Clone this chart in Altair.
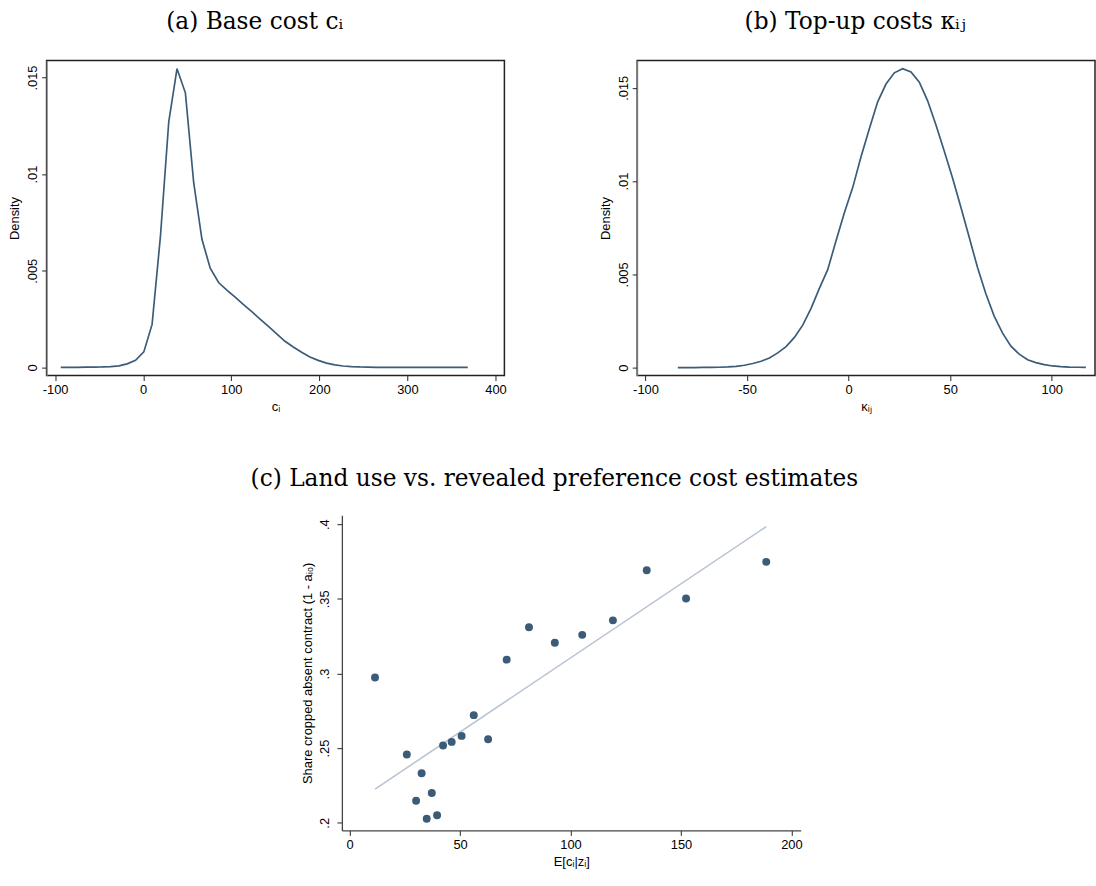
import altair as alt
import pandas as pd

# ---------------- data ----------------
# (a) kernel density of base cost c_i
base_cost_x = [-93.6, -84.2, -74.7, -65.3, -55.9, -46.4, -37.0, -27.6, -18.2, -8.7,
               0.7, 10.1, 19.6, 29.0, 38.4, 47.9, 57.3, 66.7, 76.1, 85.6,
               95.0, 104.4, 113.9, 123.3, 132.7, 142.2, 151.6, 161.0, 170.4, 179.9,
               189.3, 198.7, 208.2, 217.6, 227.0, 236.5, 245.9, 255.3, 264.7, 274.2,
               283.6, 293.0, 302.5, 311.9, 321.3, 330.8, 340.2, 349.6, 359.1, 368.5]
base_cost_density = [0.0, 0.0, 0.0, 0.00001, 0.00001, 0.00002, 0.00004, 0.00008, 0.00018, 0.00036,
                     0.00080, 0.00222, 0.0068, 0.0127, 0.01546, 0.01421, 0.00957, 0.00663, 0.00513, 0.00439,
                     0.00400, 0.00363, 0.00325, 0.00288, 0.00250, 0.00212, 0.00173, 0.00135, 0.00105, 0.00078,
                     0.00054, 0.00036, 0.00022, 0.00013, 0.00007, 0.00004, 0.00002, 0.00001, 0.0, 0.0,
                     0.0, 0.0, 0.0, 0.0, 0.0, 0.0, 0.0, 0.0, 0.0, 0.0]

# (b) kernel density of top-up costs kappa_ij
topup_x = [-84.1, -80.0, -75.9, -71.8, -67.7, -63.6, -59.5, -55.4, -51.3, -47.2,
           -43.1, -39.0, -34.9, -30.8, -26.7, -22.6, -18.5, -14.4, -10.3, -6.2,
           -2.1, 2.0, 6.1, 10.2, 14.3, 18.4, 22.5, 26.6, 30.7, 34.8,
           38.9, 43.0, 47.1, 51.2, 55.3, 59.4, 63.5, 67.6, 71.7, 75.8,
           79.9, 84.0, 88.1, 92.2, 96.3, 100.4, 104.5, 108.6, 112.7, 116.8]
topup_density = [0.0, 0.0, 0.0, 0.00001, 0.00001, 0.00002, 0.00004, 0.00007, 0.00013, 0.00022,
                 0.00034, 0.00052, 0.00079, 0.00113, 0.00162, 0.00228, 0.00318, 0.00425, 0.00525, 0.00680,
                 0.00830, 0.00965, 0.01130, 0.01280, 0.01425, 0.01520, 0.01580, 0.01602, 0.01585, 0.01530,
                 0.01430, 0.01300, 0.01160, 0.01015, 0.00858, 0.00697, 0.00535, 0.00395, 0.00275, 0.00185,
                 0.00115, 0.00072, 0.00042, 0.00027, 0.00016, 0.00009, 0.00005, 0.00003, 0.00002, 0.00001]

# (c) land use vs revealed-preference cost estimates
cost_estimate = [11.5, 25.9, 32.6, 30.1, 37.2, 34.9, 39.6, 42.3, 46.2, 50.7,
                 56.2, 62.7, 71.1, 81.2, 92.9, 105.3, 119.2, 134.5, 152.3, 188.6]
share_cropped = [0.2973, 0.2458, 0.2332, 0.2148, 0.2199, 0.2027, 0.2051, 0.2518, 0.2542, 0.2582,
                 0.2721, 0.2560, 0.3093, 0.3310, 0.3206, 0.3259, 0.3356, 0.3692, 0.3502, 0.3748]

a_xticks = [-100, 0, 100, 200, 300, 400]
b_xticks = [-100, -50, 0, 50, 100]
density_yticks = [0, 0.005, 0.01, 0.015]
c_xticks = [0, 50, 100, 150, 200]
c_yticks = [0.2, 0.25, 0.3, 0.35, 0.4]

df_a = pd.DataFrame({"x": base_cost_x, "d": base_cost_density})
df_b = pd.DataFrame({"x": topup_x, "d": topup_density})
df_c = pd.DataFrame({"cost": cost_estimate, "share": share_cropped})

# ---------------- style ----------------
NAVY = "#3b5b77"
FIT = "#b8c5d2"
SANS = "Liberation Sans"
SERIF = "DejaVu Serif"

common_axis = dict(labelFont=SANS, labelFontSize=13, labelColor="#000000",
                   titleFont=SANS, titleFontSize=13, titleColor="#000000",
                   titleFontWeight="normal", tickColor="#222222", tickSize=5,
                   tickWidth=1, grid=False)

num_label = "datum.value + ''"
dot_label = "datum.value == 0 ? '0' : slice(format(datum.value, '.3~f'), 1)"


def yaxis(title, values, pad):
    return alt.Axis(values=values, title=title, labelAngle=270, labelAlign="center",
                    labelBaseline="bottom", labelPadding=pad, titlePadding=5,
                    labelExpr=dot_label, **common_axis)


def title(text, dx, offset):
    return alt.TitleParams(text=text, font=SERIF, fontSize=23.5, fontWeight="normal",
                           color="#000000", anchor="middle", dx=dx, offset=offset,
                           baseline="alphabetic")


frame = alt.ViewBackground(stroke="#222222", strokeWidth=1.5)
no_frame = alt.ViewBackground(stroke="transparent", strokeWidth=0)

chart_a = alt.Chart(df_a).mark_line(color=NAVY, strokeWidth=1.7).encode(
    x=alt.X("x:Q", scale=alt.Scale(domain=[-109.7, 410.1], nice=False, zero=False),
            axis=alt.Axis(values=a_xticks, title="cᵢ", labelExpr=num_label, domain=False,
                          labelPadding=3, titlePadding=4, **common_axis)),
    y=alt.Y("d:Q", scale=alt.Scale(domain=[-0.000425, 0.015887], nice=False, zero=False),
            axis=yaxis("Density", density_yticks, 2)),
).properties(width=462, height=318, view=frame,
             title=title("(a) Base cost cᵢ", -21, 8))

chart_b = alt.Chart(df_b).mark_line(color=NAVY, strokeWidth=1.7).encode(
    x=alt.X("x:Q", scale=alt.Scale(domain=[-104.1, 121.3], nice=False, zero=False),
            axis=alt.Axis(values=b_xticks, title="κᵢⱼ", labelExpr=num_label, domain=False,
                          labelPadding=3, titlePadding=4, **common_axis)),
    y=alt.Y("d:Q", scale=alt.Scale(domain=[-0.000424, 0.016466], nice=False, zero=False),
            axis=yaxis("Density", density_yticks, 2)),
).properties(width=462, height=318, view=frame,
             title=title("(b) Top-up costs κᵢⱼ", -11, 8))

xc = alt.X("cost:Q", scale=alt.Scale(domain=[-3.5, 204.2], nice=False, zero=False),
           axis=alt.Axis(values=c_xticks, title="E[cᵢ|zᵢ]", labelExpr=num_label, domain=True,
                         domainColor="#444444", domainWidth=1.3, labelPadding=3,
                         titlePadding=4, **common_axis))
yc = alt.Y("share:Q", scale=alt.Scale(domain=[0.1949, 0.406], nice=False, zero=False),
           axis=alt.Axis(values=c_yticks, title="Share cropped absent contract (1 - aᵢ₀)",
                         labelAngle=270, labelAlign="center", labelBaseline="bottom",
                         labelPadding=5, titlePadding=5, domain=True, domainColor="#444444",
                         domainWidth=1.3, labelExpr=dot_label, **common_axis))

fit = alt.Chart(df_c).transform_regression("cost", "share").mark_line(
    color=FIT, strokeWidth=1.6).encode(x=xc, y=yc)
dots = alt.Chart(df_c).mark_circle(size=64, color=NAVY, opacity=1).encode(x=xc, y=yc)

chart_c = alt.layer(fit, dots).properties(
    width=463, height=318, view=no_frame,
    title=title("(c) Land use vs. revealed preference cost estimates", -17, 6))

spacer = alt.Chart(pd.DataFrame({"v": [0]})).mark_point(opacity=0).encode(
    x=alt.X("v:Q", axis=None), y=alt.Y("v:Q", axis=None)
).properties(width=205, height=10, view=no_frame)

row1 = alt.hconcat(chart_a, chart_b, spacing=92)
row2 = alt.hconcat(spacer, chart_c, spacing=0)

chart = alt.vconcat(row1, row2, spacing=53).properties(
    padding={"left": 8, "top": 5, "right": 0, "bottom": 0}
).configure_view(strokeWidth=0).configure(background="white")

chart.save("out.html", embed_options={"renderer": "svg", "actions": False})
